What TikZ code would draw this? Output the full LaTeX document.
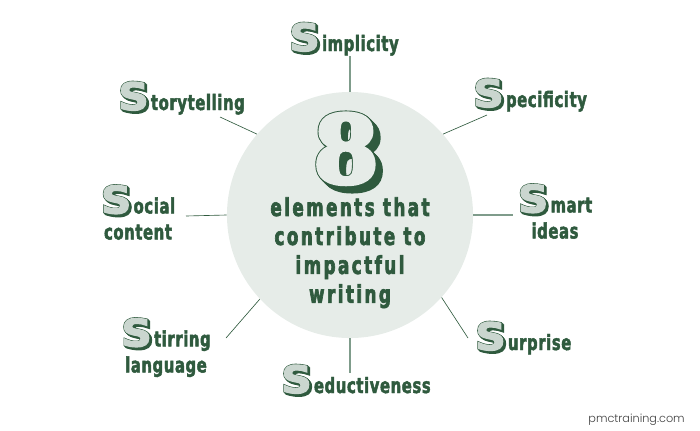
\documentclass[tikz,border=0pt]{standalone}
\usepackage{fontspec}
\newfontfamily\headfont[FakeStretch=.7,FakeBold=2.2,LetterSpace=3]{DejaVu Sans Bold}
\newfontfamily\titlefont[FakeStretch=.68,FakeBold=2.6,LetterSpace=10]{DejaVu Sans Bold}
\newfontfamily\capfont[FakeStretch=1.12,FakeBold=3]{DejaVu Sans Bold}
\newfontfamily\capedge[FakeStretch=1.12,FakeBold=6]{DejaVu Sans Bold}
\newfontfamily\numfont[FakeBold=5]{DejaVu Serif Bold}
\newfontfamily\numedge[FakeBold=7]{DejaVu Serif Bold}
\newfontfamily\webfont{Poppins Light}
\definecolor{leaf}{HTML}{2F5A3E}
\definecolor{pale}{HTML}{E6ECE8}
\definecolor{spokeline}{HTML}{7F9C8B}
\newcommand{\dropS}{\mbox{\fontsize{27}{27}\selectfont
\foreach \d in {0.4,0.8,...,2}{\rlap{\kern\d pt\raisebox{-\d pt}{\color{leaf}\capedge S}}}%
\rlap{\color{leaf}\capedge S}{\color{pale!85!leaf}\capfont S}}\kern1.5pt}
\newcommand{\bigeight}{\mbox{\fontsize{66}{66}\selectfont
\foreach \d in {0.5,1,...,4.5}{\rlap{\kern\d pt\raisebox{-\d pt}{\color{leaf}\numedge 8}}}%
\rlap{\color{leaf}\numedge 8}{\color{pale}\numfont 8}}}
\tikzset{lab/.style={text=leaf,font=\headfont\fontsize{15}{18.5}\selectfont,align=center,inner sep=0pt,anchor=base west},
twolab/.style={lab,anchor=north},
spoke/.style={leaf,line width=.45pt},
softspoke/.style={spokeline,line width=1pt}}
\begin{document}
\begin{tikzpicture}[x=.025cm,y=-.025cm]
\useasboundingbox (0,0) rectangle (700,430);
\node [circle,fill=pale,minimum size=6.15cm,inner sep=0pt] (hub) at (350,215) {};
\node [inner sep=0pt] (eight) at (346,152) {\bigeight};
\node [text=leaf,font=\titlefont\fontsize{17.5}{20.6}\selectfont,align=center,inner sep=0pt,anchor=north] (title) at (350,197) {elements that\\contribute to\\impactful\hspace*{.9em}\\writing};
\node [lab] (simplicity) at (289,51) {\dropS implicity};
\node [lab] (storytelling) at (118,110) {\dropS torytelling};
\node [lab] (specificity) at (473,107) {\dropS pecificity};
\node [twolab] (smart) at (555,184) {\dropS mart\\ideas};
\node [twolab] (social) at (138,185) {\dropS ocial\\content};
\node [twolab] (stirring) at (166,318) {\dropS tirring\\language};
\node [lab] (seductiveness) at (281,393) {\dropS eductiveness};
\node [lab] (surprise) at (475,350) {\dropS urprise};
\node [text=black!75,font=\webfont\fontsize{8}{10}\selectfont,inner sep=0pt,anchor=base east] (site) at (685,422) {pmctraining.com};
\coordinate (simplicity end) at (350,56);
\coordinate (storytelling end) at (220,117);
\coordinate (specificity end) at (487,115);
\coordinate (smart end) at (513,215);
\coordinate (social end) at (186,216);
\coordinate (stirring end) at (226,338);
\coordinate (seductiveness end) at (350,373);
\coordinate (surprise end) at (468,338);
\draw [softspoke] (hub.90)--(simplicity end);
\draw [spoke] (hub.139.6)--(storytelling end);
\draw [spoke] (hub.41.7)--(specificity end);
\draw [softspoke] (hub.0)--(smart end);
\draw [spoke] (hub.180)--(social end);
\draw [spoke] (hub.223)--(stirring end);
\draw [softspoke] (hub.270)--(seductiveness end);
\draw [spoke] (hub.-42)--(surprise end);
\end{tikzpicture}
\end{document}
